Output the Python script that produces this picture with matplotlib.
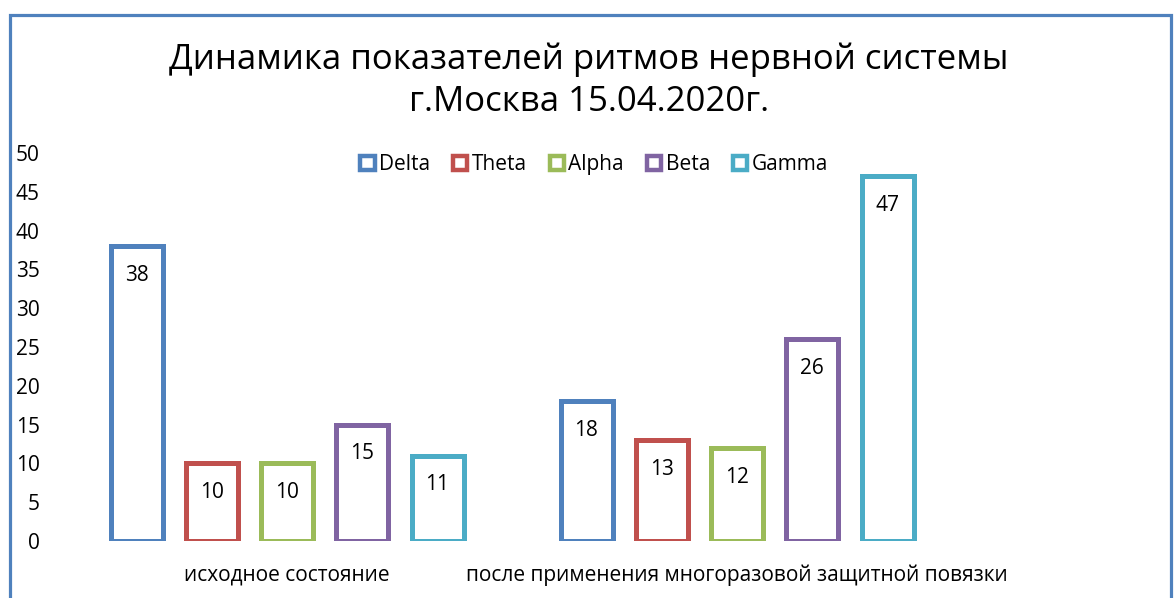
import matplotlib
matplotlib.use("Agg")
import matplotlib.pyplot as plt
from matplotlib.patches import Patch, Rectangle
import numpy as np

plt.rcParams['font.family'] = ['Open Sans', 'DejaVu Sans']

categories = ["исходное состояние", "после применения многоразовой защитной повязки"]
series = ["Delta", "Theta", "Alpha", "Beta", "Gamma"]
values = {
    "Delta": [38, 18],
    "Theta": [10, 13],
    "Alpha": [10, 12],
    "Beta": [15, 26],
    "Gamma": [11, 47],
}
colors = ["#4F81BD", "#C0504D", "#9BBB59", "#8064A2", "#4BACC6"]
title = "Динамика показателей ритмов нервной системы\nг.Москва 15.04.2020г."
yticks = [0, 5, 10, 15, 20, 25, 30, 35, 40, 45, 50]

W, H = 1174, 598
fig = plt.figure(figsize=(W / 100, H / 100), dpi=100)
ax = fig.add_axes([62 / W, (H - 541) / H, 900 / W, (541 - 153) / H])

x = np.arange(len(categories))
step = 75.25 / 450
bw = 52 / 450
for i, (s, c) in enumerate(zip(series, colors)):
    pos = x + (i - 2) * step
    ax.bar(pos, values[s], width=bw, facecolor="white", edgecolor=c,
           linewidth=3.6, label=s)
    for p, v in zip(pos, values[s]):
        ax.annotate(str(v), (p, v), xytext=(0, -21), textcoords="offset points",
                    ha="center", va="center", fontsize=15, color="black")

ax.set_xlim(-0.5, 1.5)
ax.set_ylim(0, 50)
ax.set_yticks(yticks)
ax.set_xticks(x)
ax.set_xticklabels(categories, fontsize=15)
ax.tick_params(axis="both", length=0)
ax.tick_params(axis="y", pad=16, labelsize=15)
ax.tick_params(axis="x", pad=17)
for lab in ax.get_yticklabels():
    lab.set_horizontalalignment("right")
for sp in ax.spines.values():
    sp.set_visible(False)

handles = [Patch(facecolor="white", edgecolor=c, linewidth=3.2, label=s)
           for s, c in zip(series, colors)]
fig.legend(handles=handles, loc="center", bbox_to_anchor=(594 / W, 1 - 165 / H),
           ncol=5, frameon=False, fontsize=15, handlelength=0.7, handleheight=0.7,
           handletextpad=0.2, columnspacing=1.1)

fig.text(589 / W, 1 - 81 / H, title, ha="center", va="center", fontsize=25,
         linespacing=1.32)

fig.patches.append(Rectangle((9.5 / W, -0.05), (1171 - 9.5) / W, 1.05 - 14.5 / H,
                             transform=fig.transFigure, fill=False,
                             edgecolor="#4F81BD", linewidth=2.3, clip_on=False))

fig.savefig("out.png", dpi=100, facecolor="white")
